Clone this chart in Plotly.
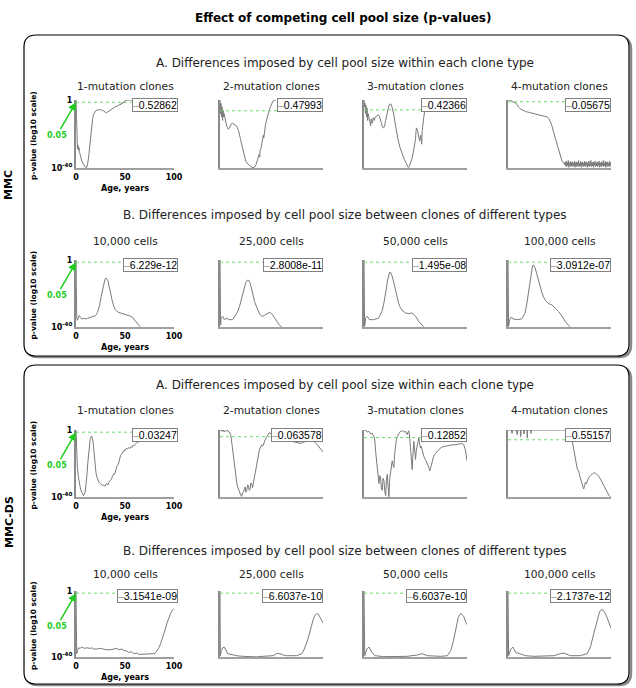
import math
import plotly.graph_objects as go

W, H = 636, 688

# ---------------- data: (age in years, log10 p-value) ----------------
MMC_A_1MUT = [(0,0),(0.5,-12),(1,-24),(1.5,-28.8),(2,-26.4),(2.5,-29.6),(3,-28),(3.5,-30.4),(4,-32),
    (5,-34),(6,-36),(7,-37.2),(8,-38.4),(9,-39.2),(10,-39.8),(11,-39.6),(12,-37.2),(13,-32.8),(14,-26),
    (15,-20),(16,-14.4),(17,-10.8),(18,-8.4),(19,-7.2),(20,-6.4),(22,-5.8),(24,-5.6),(26,-5.8),(28,-6.4),
    (30,-7.4),(31,-7.6),(32,-7.2),(34,-6.4),(36,-5.6),(38,-4.6),(40,-4),(42,-3.6),(44,-2.8),(45,-3.0),
    (46,-2.0),(47,-2.4),(48,-1.2),(49,-1.4),(50,-0.4),(52,0),(55,0),(58,0)]
MMC_A_2MUT = [(0,0),(0.5,-1.64),(1,-0.41),(1.5,-2.05),(2,-0.82),(2.5,-2.46),(3,-1.23),(3.5,-2.05),(4,-1.64),
    (5,-2.46),(6,-2.87),(7,-3.28),(8,-3.53),(9,-3.44),(10,-3.12),(11,-2.87),(12,-2.79),(13,-2.87),(14,-2.95),
    (16,-3.12),(18,-3.69),(19,-4.1),(20,-4.76),(21,-5.33),(22,-5.9),(23,-6.56),(24,-7.13),(25,-7.38),
    (27,-7.71),(29,-7.95),(31,-8.12),(33,-8.18),(34,-8.04),(35,-7.79),(36,-7.38),(37,-7.05),(38,-6.56),
    (38.5,-6.89),(39,-6.07),(40,-5.74),(40.5,-5.25),(41,-5.41),(42,-4.26),(42.5,-4.59),(43,-3.69),(44,-3.12),
    (45,-2.54),(46,-1.97),(47,-1.56),(48,-1.15),(49,-0.82),(50,-0.41),(51,-0.25),(52,-0.08),(54,0)]
MMC_A_3MUT = [(0,0),(0.5,-0.9),(1,-0.45),(1.5,-1.8),(2,-0.72),(2.5,-2.25),(3,-1.08),(3.5,-2.7),(4,-1.8),
    (5,-2.7),(6,-3.24),(6.5,-3.42),(7,-2.52),(8,-3.06),(9,-2.34),(10,-2.7),(11,-2.25),(12,-2.16),(13,-1.98),
    (14,-1.98),(15,-2.16),(16,-2.7),(17,-3.24),(18,-3.6),(19,-3.69),(20,-3.42),(21,-2.7),(22,-1.98),
    (23,-1.26),(24,-0.81),(25,-0.54),(26,-0.54),(27,-0.81),(28,-1.35),(29,-1.98),(30,-2.88),(31,-3.78),
    (32,-4.5),(33,-5.22),(35,-6.3),(37,-7.2),(39,-7.83),(41,-8.37),(43,-8.95),(44,-8.82),(45,-8.37),
    (46,-7.92),(47,-7.56),(48,-6.75),(49,-5.94),(50,-5.22),(50.5,-4.14),(51,-3.69),(52,-4.05),(53,-4.95),
    (54,-5.4),(55,-4.68),(56,-5.85),(56.5,-4.05),(57,-3.06),(58,-2.34),(59,-1.35),(60,-0.54),(61,-0.18),(62,0)]
MMC_A_4MUT = [(0,0),(2,0),(4,-1),(6,-1.5),(8,-2.5),(9,-3.5),(10,-5),(12,-6.5),(14,-7.5),(17,-8.5),(20,-9),
    (25,-10),(28,-10.5),(31.6,-11),(35,-11.5),(38,-12.5),(40,-14),(41,-15.5),(42.5,-18.5),(44,-23),(46,-28),
    (47.8,-32.5),(49.5,-37.5),(51,-42),(52.5,-45),(54,-46.5),(55,-47.5),
    (55.5,-45.5),(56,-48.5),(56.5,-45),(57,-49),(57.5,-46),(58,-48),(58.5,-44.5),(59,-49.5),(59.5,-46.5),
    (60,-48),(60.5,-45),(61,-49),(61.5,-46),(62,-48.5),(62.5,-45.5),(63,-49),(63.5,-46.5),(64,-48),
    (64.5,-45),(65,-49.5),(65.5,-46),(66,-48.5),(66.5,-45.5),(67,-49),(67.5,-46),(68,-48),(68.5,-44.5),
    (69,-49),(69.5,-46.5),(70,-48.5),(70.5,-45),(71,-49.5),(71.5,-46),(72,-48),(72.5,-45.5),(73,-49),
    (73.5,-46.5),(74,-48.5),(74.5,-45),(75,-49),(75.5,-46),(76,-48),(76.5,-45.5),(77,-49.5),(77.5,-46.5),
    (78,-48.5),(78.5,-45),(79,-49),(79.5,-46),(80,-48),(80.5,-44.5),(81,-49),(81.5,-46.5),(82,-48.5),
    (82.5,-45.5),(83,-49.5),(83.5,-46),(84,-48),(84.5,-45),(85,-49),(85.5,-46.5),(86,-48.5),(86.5,-45.5),
    (87,-49),(87.5,-46),(88,-48),(88.5,-45),(89,-49.5),(89.5,-46.5),(90,-48.5),(90.5,-45.5),(91,-49),
    (91.5,-46),(92,-48),(92.5,-44.5),(93,-49),(93.5,-46.5),(94,-48.5),(94.5,-45),(95,-49.5),(95.5,-46),
    (96,-48),(96.5,-45.5),(97,-49),(97.5,-46.5),(98,-48.5),(98.5,-45),(99,-49),(99.5,-46),(100,-48)]

MMC_B_10K = [(0,0),(0.3,-20),(0.7,-34),(1.4,-36),(2.4,-34.4),(3.4,-33.2),(4.5,-34.4),(6,-35.2),(8,-34.8),
    (10,-35.2),(12,-34.8),(14,-34.4),(16,-34),(18,-33.6),(20,-33.2),(22,-31.2),(24,-27.2),(25.5,-22.4),
    (26.5,-19.2),(27.5,-16),(28.5,-13.2),(29.5,-11.6),(30.5,-10.8),(31.5,-11.2),(32.5,-12.4),(33.5,-14.4),
    (35,-18.8),(36.5,-23.2),(38,-26.8),(40,-29.6),(42,-30.8),(45,-31.6),(48,-32),(51,-32.4),(54,-33.2),
    (56,-33.6),(58,-34.4),(60,-36),(62,-37.6),(64,-39.2),(65.5,-39.9)]
MMC_B_25K = [(0,0),(0.3,-24),(0.6,-38.8),(1,-34.8),(2.6,-33.6),(4.2,-35.6),(5.9,-34.8),(9.2,-35.6),
    (12.4,-35.6),(15.7,-32.4),(17.5,-30.4),(19,-27.6),(20.5,-24),(22.2,-18.8),(23.5,-16),(24.8,-14),
    (26,-12.4),(27.1,-12),(28.2,-12.4),(29.4,-14),(30.5,-16.8),(32,-21.6),(33.5,-24.8),(35.3,-27.6),
    (37,-30.4),(38.6,-32.4),(40,-33.2),(41.8,-33.6),(43.5,-32.8),(45.1,-32.4),(46.8,-31.6),(48.4,-31.2),
    (50,-32),(51.6,-33.2),(53.3,-34.8),(54.9,-36.4),(56.5,-38),(58.2,-39.2),(59.8,-39.9)]
MMC_B_50K = [(0,0),(0.3,-24),(0.6,-39.6),(1.6,-34.8),(3.3,-33.6),(5.2,-35.6),(9.2,-35.6),(14,-34.8),
    (17.3,-30.8),(19,-26.8),(20.6,-22),(22,-16),(22.9,-12),(24,-8.4),(24.8,-7.2),(26,-7.6),(27.1,-9.2),
    (28.8,-13.2),(30.4,-18),(32,-22.4),(33.7,-26),(35.3,-28.4),(36.9,-30),(40.2,-31.6),(43.5,-32),
    (46.7,-31.6),(50,-33.6),(53.3,-36.8),(56.5,-39.2),(58,-39.9)]
MMC_B_100K = [(0,0),(0.3,-24),(0.6,-39.6),(1.6,-35.6),(3.3,-34),(4.9,-35.2),(8.2,-35.6),(13.1,-35.2),
    (16.4,-32),(18,-27.2),(19.7,-20),(21,-13.2),(22,-8.4),(23,-4.8),(23.9,-3.2),(25,-3.2),(26.2,-4.4),
    (27.8,-8),(29.5,-12),(31,-15.6),(32.8,-19.2),(34.5,-22),(36.1,-24),(39.3,-26),(42.6,-26.8),(45.9,-28.8),
    (49.2,-30.8),(52.5,-33.6),(55.7,-36.8),(59,-39.2),(60.5,-39.9)]

DS_A_1MUT = [(0,0),(0.5,-12),(1.4,-22),(2.4,-28),(3.4,-32),(4.6,-35.2),(5.9,-37.2),(7.6,-39.2),(9.3,-37.2),
    (10.2,-33.2),(11,-28),(12,-20),(12.8,-14),(13.6,-8.8),(14.5,-5.2),(15.9,-3.6),(17.2,-6),(18,-10.4),
    (18.6,-16),(19.5,-20.8),(20.3,-25.2),(21.3,-28),(22.4,-30),(23.5,-31.2),(24.8,-32),(26,-32.4),(27,-33.2),
    (28.3,-32.8),(29.5,-33.6),(30.5,-32.4),(31.7,-32),(32.5,-32.8),(33.5,-31.2),(35.2,-30),(36,-29.6),
    (37,-28),(38.6,-26),(39.5,-26.4),(40.3,-24),(42,-21.2),(43,-20.8),(44,-18),(45.5,-15.2),(46.5,-14.4),
    (47.5,-13.2),(49,-12),(50,-12.4),(51,-11.2),(52.4,-11.2),(53.5,-10.4),(54.5,-11.2),(55.9,-10),
    (57,-10.4),(58,-9.2),(59.3,-9.2),(60.5,-8.4),(61.5,-8),(62.8,-7.2),(64,-7.2),(65,-6.4),(66.2,-6),
    (67.5,-5.2),(68.5,-4.8),(69.7,-4),(71,-3.2),(72,-2.8),(73,-2),(75,-1.2),(77,-0.8),(80,0)]
DS_A_2MUT = [(0,0),(0.6,-0.2),(1.5,0),(2.2,-0.26),(3.2,0),(4,-0.39),(5,-0.13),(6.5,-0.2),(7.5,0),
    (8.3,-0.39),(9.1,-0.39),(10.4,-0.91),(11.7,-2.86),(13,-5.33),(14,-7.15),(14.6,-7.93),(15.3,-9.1),
    (16.2,-10.14),(17,-10.92),(17.9,-11.44),(18.6,-12.09),(19.5,-12.35),(20.3,-12.74),(21.1,-12.87),
    (21.8,-12.22),(22.7,-12.09),(23.5,-11.31),(24.4,-11.05),(25.2,-12.09),(26,-11.7),(26.8,-10.66),
    (27.6,-10.79),(28.4,-11.7),(29.2,-11.44),(30,-10.27),(30.8,-10.4),(31.6,-11.18),(32.5,-10.14),
    (33.3,-8.84),(34.1,-8.19),(35,-7.15),(35.7,-6.37),(36.5,-5.59),(37.3,-4.81),(38.2,-3.9),(39,-3.51),
    (40.6,-2.86),(41.5,-3.12),(42.2,-2.6),(43,-2.21),(43.8,-1.95),(44.6,-1.56),(45.5,-1.3),(46.3,-0.91),
    (47,-0.65),(48,-0.52),(50,-0.78),(52,-1.3),(55,-1.56),(58,-1.69),(61.7,-1.95),(65,-2.08),(68,-2.21),
    (71.4,-2.34),(74,-2.47),(76.3,-2.6),(78.5,-2.6),(81.2,-2.34),(84,-2.21),(88,-2.21),(91,-2.21),
    (93.5,-2.6),(95.8,-3.25),(98,-3.9),(100,-4.29)]
DS_A_3MUT = [(0,0),(1.6,0),(3,-0.35),(4.8,-0.23),(6.5,-0.69),(8.1,-0.58),(9.2,-1.04),(10.3,-1.38),
    (11.3,-3.68),(12.1,-5.18),(12.9,-6.44),(13.7,-8.05),(14.5,-9.2),(15.3,-7.82),(16.1,-8.17),(16.9,-10.12),
    (17.7,-10.35),(18.5,-8.28),(19.4,-8.74),(20.2,-10.58),(21,-11.27),(21.8,-8.63),(22.6,-7.59),(23.4,-9.78),
    (24.2,-11.45),(25,-8.28),(25.8,-7.02),(26.6,-5.75),(27.4,-5.29),(28.2,-5.98),(29,-6.44),(29.8,-4.03),
    (30.6,-2.53),(31.5,-1.61),(32.3,-1.15),(33.1,-0.81),(33.9,-0.58),(35.5,-0.23),(37.1,-0.12),(38.7,-0.35),
    (40.3,-0.23),(41.1,-0.58),(41.9,-0.81),(42.7,-0.35),(43.5,-0.12),(44.4,-1.38),(45.2,-3.11),(46,-5.18),
    (46.8,-6.79),(47.6,-4.03),(48.4,-1.96),(49.2,-3.45),(50,-5.06),(50.8,-3.45),(51.6,-2.53),(52.4,-1.73),
    (53.2,-1.38),(54,-2.3),(54.8,-3.11),(55.6,-2.76),(56.5,-3.68),(58,-4.49),(59.5,-5.06),(61.3,-5.64),
    (62.5,-6.21),(63.9,-7.02),(64.7,-6.56),(65.5,-5.87),(66.6,-5.06),(67.7,-4.49),(69.4,-4.03),(71,-3.68),
    (72.6,-3.34),(74.2,-3.11),(76.5,-2.88),(79,-2.76),(81.5,-2.65),(83.9,-2.65),(86.3,-2.53),(88.7,-2.53),
    (91,-2.42),(93.5,-2.3),(95,-2.3),(96.8,-2.53),(98.5,-3.45),(100,-5.29)]
DS_A_4MUT = [(0,0),(3,0),(4,-0.45),(4.5,0),(8,0),(9,-0.62),(9.5,0),(12,0),(12.3,-0.89),(12.8,0),(15,0),
    (15.5,-0.53),(16,0),(18.5,0),(18.7,-1.07),(19,0),(22,0),(22.3,-0.45),(22.7,0),(40,0),(60,0),(61,-0.45),
    (62.3,-1.51),(63.1,-2.23),(63.9,-2.85),(64.7,-3.56),(65.5,-3.92),(66.2,-4.63),(67,-4.98),(67.8,-5.34),
    (68.7,-5.43),(69.5,-6.05),(70.3,-6.32),(71.1,-6.85),(72,-7.12),(72.8,-7.57),(73.5,-7.83),(74.3,-7.48),
    (75.2,-6.94),(76,-7.12),(76.8,-6.76),(78.4,-6.32),(80,-6.05),(81.6,-5.87),(83.2,-5.7),(84.8,-5.7),
    (86.5,-5.87),(88,-6.14),(89.7,-6.5),(91.3,-6.94),(92.9,-7.39),(94.5,-7.83),(96.1,-8.28),(97.8,-8.63),
    (99.4,-8.88)]

DS_B_10K = [(0,0),(0.3,-20),(0.7,-38),(1.7,-36),(2.7,-34.4),(4.1,-34.8),(5.5,-34),(7.5,-34.4),(9,-34.8),
    (11,-34.4),(14.4,-34.8),(16,-34.4),(18,-35.2),(21.2,-35.2),(24,-34.8),(28.1,-35.2),(31,-35.6),(34.9,-35.6),
    (38,-35.2),(41.8,-34.8),(43.5,-35.6),(45.2,-35.6),(47,-35.2),(48.6,-36),(50.5,-36),(52,-36.4),(53.5,-37.2),
    (55.5,-37.2),(57,-36.8),(58.9,-38),(60.5,-37.6),(62.3,-37.6),(64,-38.4),(65.8,-38.4),(70,-38.4),
    (72.6,-38.4),(76,-38.2),(79.5,-38),(81.5,-37.2),(82.9,-36),(84.6,-34.4),(86.3,-32),(88,-29.2),
    (89.7,-26),(91.5,-22.4),(93.2,-18.8),(95,-15.6),(96.6,-13.6),(98,-12),(99.3,-10.8),(100,-10.8)]
DS_B_25K = [(0,0),(0.3,-39.2),(1.3,-36),(2.6,-34.4),(4.2,-34),(5.9,-36),(7.5,-38),(10.8,-38.4),(15.7,-39.2),
    (22.2,-39.6),(28.8,-39.9),(35.3,-39.9),(41.8,-39.6),(48,-39.4),(51.6,-39.2),(54.9,-38),(58.2,-38),
    (61.5,-38.8),(64.7,-39.2),(74.5,-39.2),(77,-38.8),(79.4,-38),(81,-36.4),(82.7,-34),(84.3,-31.2),
    (85.9,-28),(87.5,-24),(89.2,-20),(90.5,-17.2),(91.8,-15.2),(93,-14),(94.1,-13.6),(95.4,-14),(96.7,-15.2),
    (98,-16.8),(99,-18),(100,-19.6)]
DS_B_50K = [(0,0),(0.7,-39.2),(2.6,-35.2),(4.9,-34),(7.5,-37.2),(10.8,-39.2),(19,-39.8),(28.8,-39.8),
    (41.8,-39.6),(51.6,-38.8),(56.5,-38),(61.4,-39.2),(74.5,-39.6),(81,-39.2),(84.3,-36),(86.9,-30),
    (89.2,-22),(91.5,-16),(94.1,-13.6),(96.7,-15.2),(99,-19.2),(100,-20.4)]
DS_B_100K = [(0,0),(0.6,-39.2),(2.6,-35.2),(4.8,-34),(7.4,-37.2),(10.6,-38),(17.1,-39.2),(25.2,-39.6),
    (34.8,-39.6),(44.5,-39.2),(51,-38),(54.2,-37.6),(60.6,-39.2),(70.3,-39.2),(76.8,-38),(80,-34),
    (83.2,-26),(86.5,-17.2),(89,-12.4),(91.3,-11.2),(93.5,-12.4),(96.1,-16),(98.7,-21.2),(100,-22.4)]

MUT_TITLES = ["1-mutation clones", "2-mutation clones", "3-mutation clones", "4-mutation clones"]
POOL_TITLES = ["10,000 cells", "25,000 cells", "50,000 cells", "100,000 cells"]
MMC_A_PVAL = ["0.52862", "0.47993", "0.42366", "0.05675"]
MMC_B_PVAL = ["6.229e-12", "2.8008e-11", "1.495e-08", "3.0912e-07"]
DS_A_PVAL = ["0.03247", "0.063578", "0.12852", "0.55157"]
DS_B_PVAL = ["3.1541e-09", "6.6037e-10", "6.6037e-10", "2.1737e-12"]
X_TICKS = [0, 50, 100]
Y_TICKS = [-40, 0]
Y_TICKTEXT = ["10<sup>-40</sup>", "1"]
SIG_LEVEL = 0.05

ROWS = [
    ([MMC_A_1MUT, MMC_A_2MUT, MMC_A_3MUT, MMC_A_4MUT], MUT_TITLES, MMC_A_PVAL, [-40, -8.2, -9.0, -50]),
    ([MMC_B_10K, MMC_B_25K, MMC_B_50K, MMC_B_100K], POOL_TITLES, MMC_B_PVAL, [-40, -40, -40, -40]),
    ([DS_A_1MUT, DS_A_2MUT, DS_A_3MUT, DS_A_4MUT], MUT_TITLES, DS_A_PVAL, [-40, -13, -11.5, -8.9]),
    ([DS_B_10K, DS_B_25K, DS_B_50K, DS_B_100K], POOL_TITLES, DS_B_PVAL, [-40, -40, -40, -40]),
]

# ---------------- layout geometry (pixels) ----------------
COL_X = [(76, 174), (220, 323), (364, 467), (508, 611)]
ROW_Y = [(100, 168), (260, 327), (430, 497), (591, 657)]
TITLE_Y = [86, 241, 411, 574]
HEAD_Y = [63, 215, 385, 551]
HEAD_TXT = ["A. Differences imposed by cell pool size within each clone type",
            "B. Differences imposed by cell pool size between clones of different types",
            "A. Differences imposed by cell pool size within each clone type",
            "B. Differences imposed by cell pool size between clones of different types"]

def px(x):
    return x / W

def py(y):
    return 1 - y / H

FONT = "DejaVu Sans"
GREEN = "#22cc22"

def label(x, y, text, size, color="black", angle=0, family=FONT):
    return dict(xref="paper", yref="paper", x=px(x), y=py(y), text=text, showarrow=False,
                xanchor="center", yanchor="middle", textangle=angle,
                font=dict(family=family, size=size, color=color))

fig = go.Figure()
layout = dict(template="none", width=W, height=H, margin=dict(l=0, r=0, t=0, b=0, pad=0),
              autosize=False, paper_bgcolor="white", plot_bgcolor="rgba(0,0,0,0)", showlegend=False)
annotations = []
shapes = []

k = 0
for r, (series, titles, pvals, ymins) in enumerate(ROWS):
    y0p, y1p = ROW_Y[r]
    for c in range(4):
        k += 1
        s = "" if k == 1 else str(k)
        x0p, x1p = COL_X[c]
        data = series[c]
        fig.add_trace(go.Scatter(x=[d[0] for d in data], y=[d[1] for d in data], mode="lines",
                                 line=dict(color="#7a7a7a", width=1), xaxis="x" + s, yaxis="y" + s,
                                 hoverinfo="skip"))
        first = (c == 0)
        layout["xaxis" + s] = dict(domain=[px(x0p), px(x1p)], range=[0, 100], anchor="y" + s,
                                   automargin=False,
                                   showline=True, linecolor="#a0a0a0", linewidth=2, showgrid=False,
                                   zeroline=False, ticks="", showticklabels=first,
                                   tickvals=X_TICKS,
                                   tickfont=dict(family=FONT, size=8, color="black", weight="bold"))
        layout["yaxis" + s] = dict(domain=[py(y1p), py(y0p)], range=[ymins[c], 0], anchor="x" + s,
                                   automargin=False,
                                   showline=True, linecolor="#8a8a8a", linewidth=2, showgrid=False,
                                   zeroline=False, ticks="", showticklabels=first,
                                   tickvals=Y_TICKS, ticktext=Y_TICKTEXT,
                                   tickfont=dict(family=FONT, size=8, color="black", weight="bold"))
        # significance line
        shapes.append(dict(type="line", xref="x" + s, yref="y" + s, x0=0, x1=100,
                           y0=math.log10(SIG_LEVEL), y1=math.log10(SIG_LEVEL),
                           line=dict(color="#66dd66", width=1, dash="dot"), layer="above"))
        # legend box
        annotations.append(dict(xref="x" + s + " domain", yref="y" + s + " domain",
                                x=1.045 if first else 1.0, y=1.03,
                                xanchor="right", yanchor="top", showarrow=False,
                                text="<span style='color:#999999'>–</span>" + pvals[c],
                                font=dict(family="Liberation Sans", size=10.5, color="black"),
                                bgcolor="white", bordercolor="#808080", borderwidth=1, borderpad=0))
        # subplot title
        annotations.append(label((x0p + x1p) / 2, TITLE_Y[r], titles[c], 10.7, "#222222"))
        if first:
            annotations.append(dict(xref="x" + s, yref="y" + s, x=0, y=math.log10(SIG_LEVEL),
                                    text="<b>0.05</b>", showarrow=True, ax=-19, ay=33,
                                    arrowhead=2, arrowsize=1.1, arrowwidth=1.5, arrowcolor=GREEN,
                                    font=dict(family=FONT, size=8, color=GREEN)))
            annotations.append(label((x0p + x1p) / 2, y1p + 20, "<b>Age, years</b>", 8))
            annotations.append(label(33, (y0p + y1p) / 2 + 2, "<b>p-value (log10 scale)</b>", 7.5, angle=-90))
    annotations.append(label(345, HEAD_Y[r], HEAD_TXT[r], 12, "#222222"))

annotations.append(label(343, 18, "<b>Effect of competing cell pool size (p-values)</b>", 12))
annotations.append(label(9, 185, "<b>MMC</b>", 11, angle=-90))
annotations.append(label(9, 522, "<b>MMC-DS</b>", 11, angle=-90))

def rrect(x0, y0, x1, y1, rad):
    rx, ry = rad / W, rad / H
    X0, X1, Y0, Y1 = px(x0), px(x1), py(y0), py(y1)
    return (f"M {X0+rx},{Y0} L {X1-rx},{Y0} Q {X1},{Y0} {X1},{Y0-ry} "
            f"L {X1},{Y1+ry} Q {X1},{Y1} {X1-rx},{Y1} L {X0+rx},{Y1} Q {X0},{Y1} {X0},{Y1+ry} "
            f"L {X0},{Y0-ry} Q {X0},{Y0} {X0+rx},{Y0} Z")

for (bx0, by0, bx1, by1) in [(24, 35, 629, 356), (24, 365, 629, 684)]:
    shapes.append(dict(type="path", xref="paper", yref="paper", path=rrect(bx0 + 2, by0 + 2, bx1 + 2, by1 + 1, 12),
                       line=dict(color="#8a8a8a", width=2.5), layer="below"))
    shapes.append(dict(type="path", xref="paper", yref="paper", path=rrect(bx0, by0, bx1, by1, 12),
                       line=dict(color="black", width=1.2), fillcolor="white", layer="below"))

layout["annotations"] = annotations
layout["shapes"] = shapes
fig.update_layout(**layout)
fig.write_html("out.html", config={"displayModeBar": False},
               post_script="document.body.style.margin='0';document.body.style.padding='0';"
                           "document.body.style.overflow='hidden';")
